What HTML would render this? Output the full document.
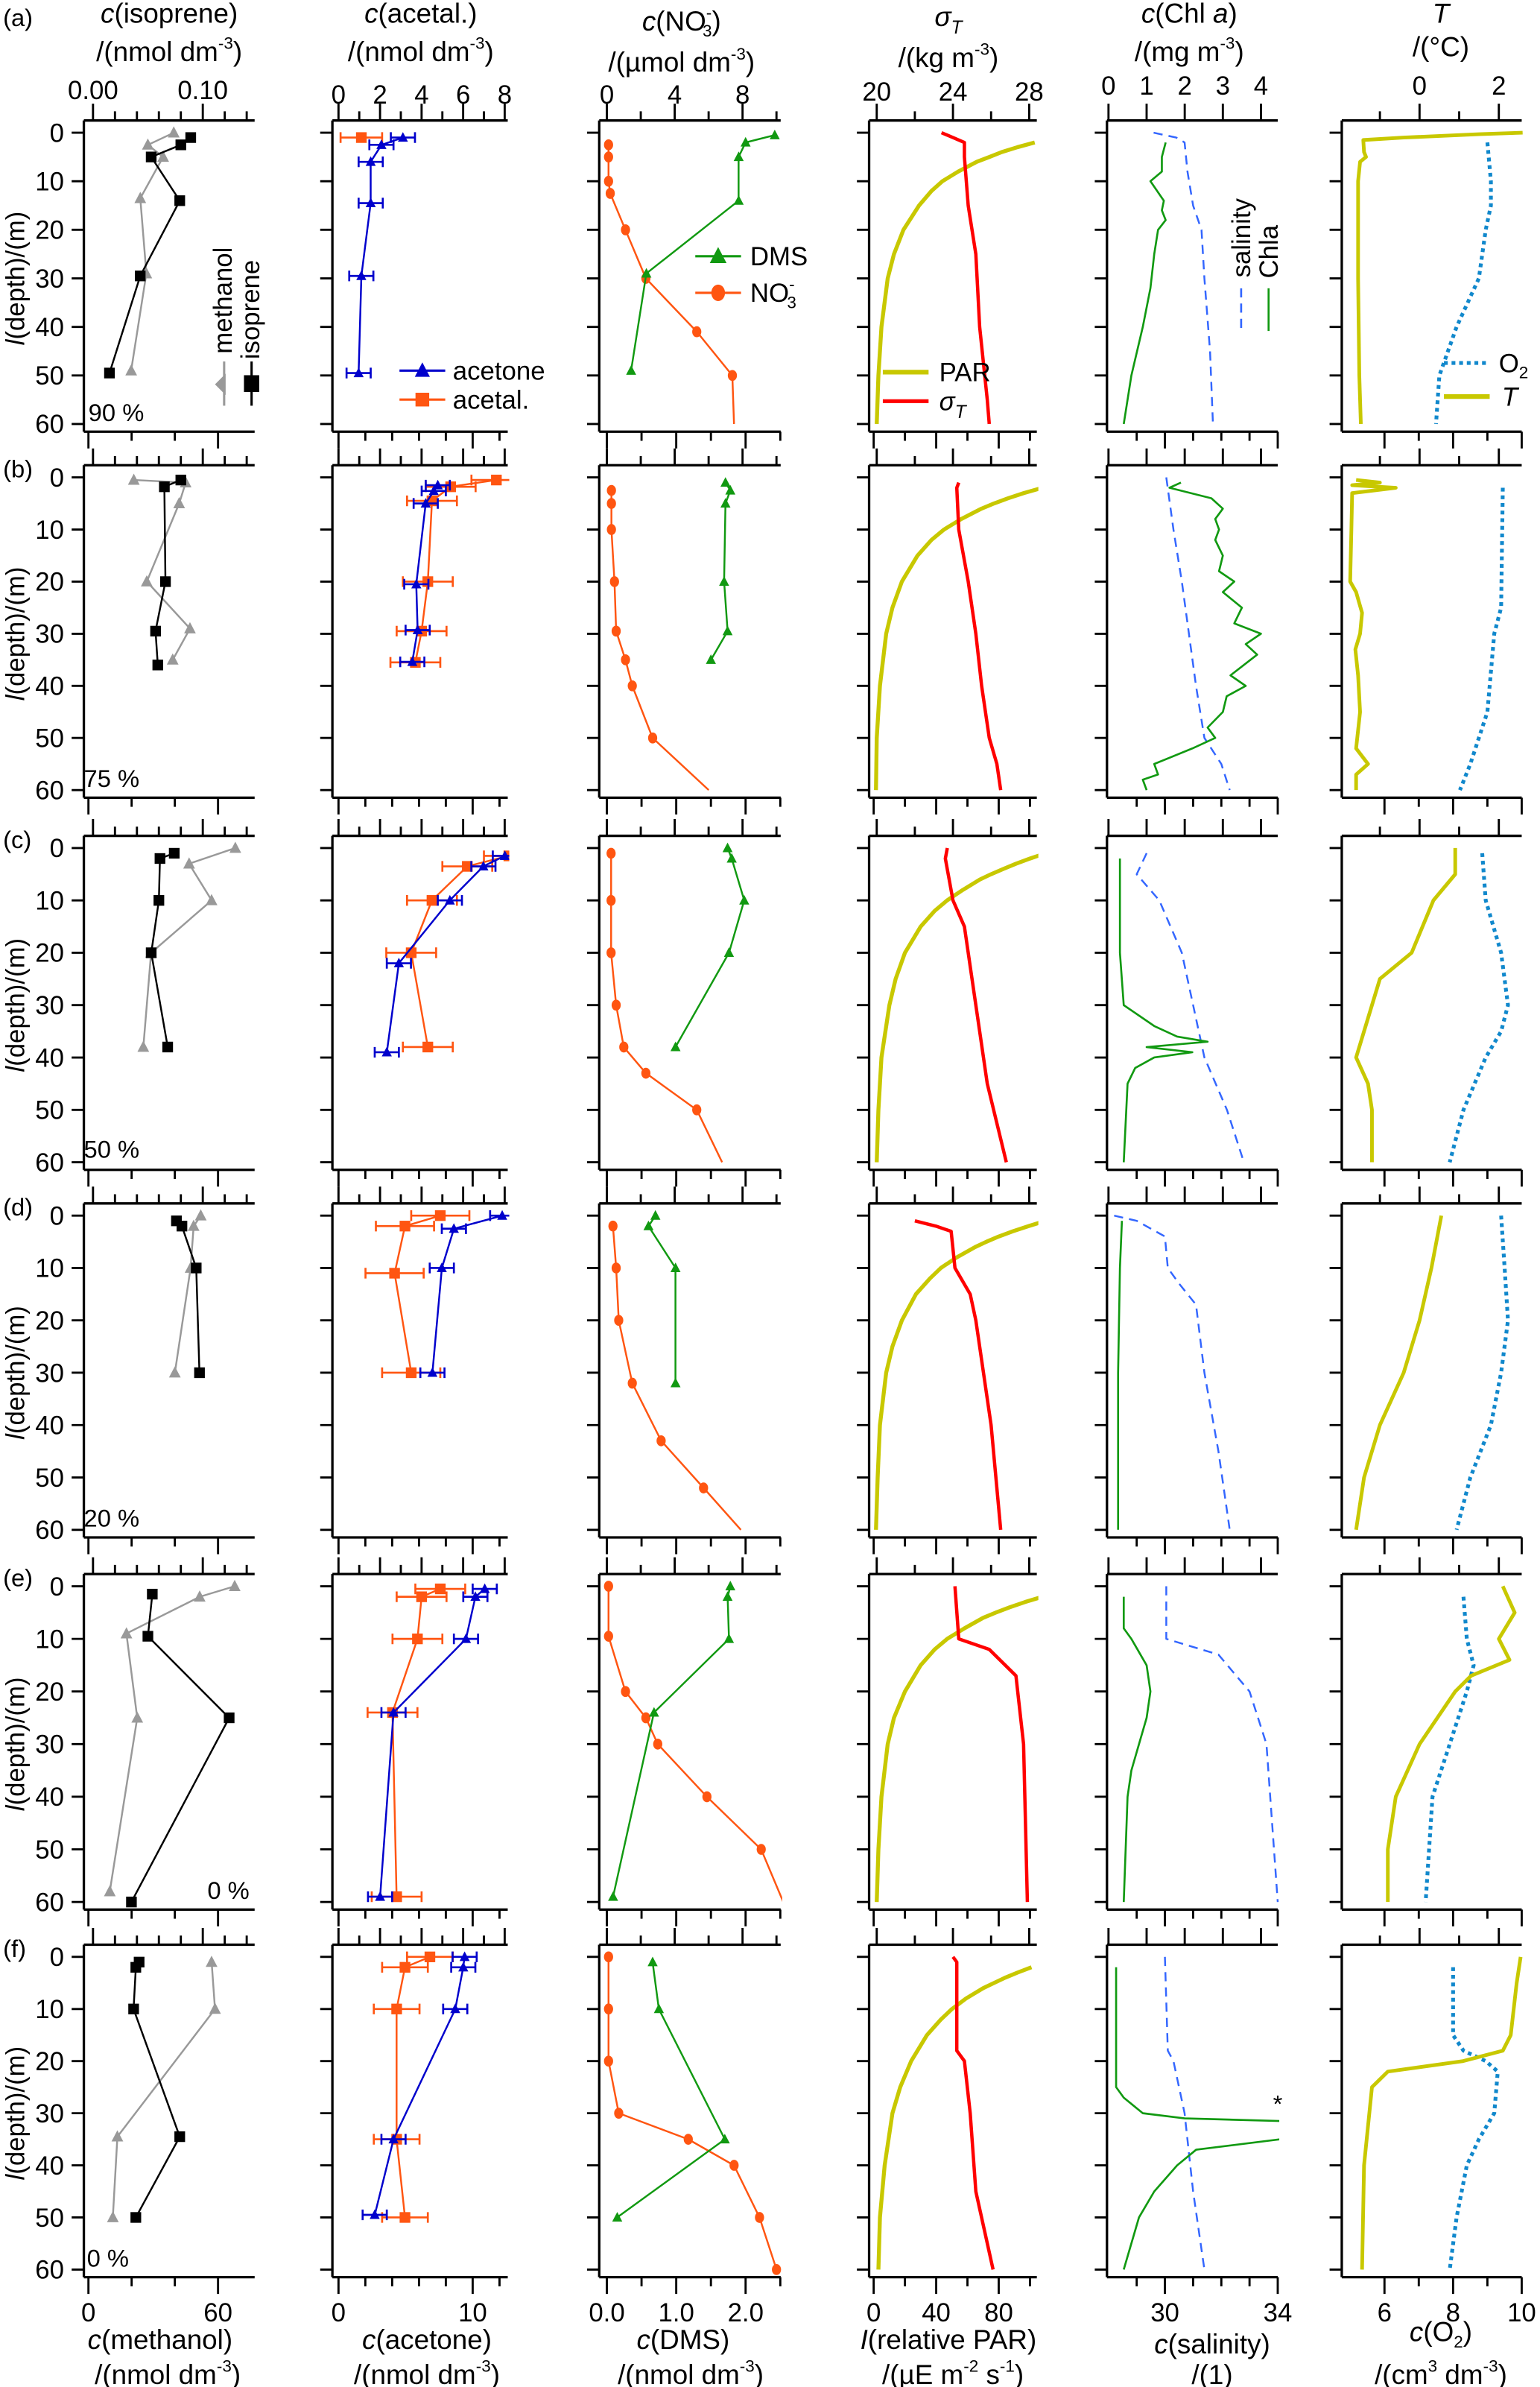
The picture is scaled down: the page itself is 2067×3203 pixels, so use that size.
<!DOCTYPE html>
<html><head><meta charset="utf-8"><title>Depth profiles</title>
<style>
html,body{margin:0;padding:0;background:#fff;}
svg{display:block;}
text{font-family:"Liberation Sans Narrow","Liberation Sans",sans-serif;fill:#000;}
</style></head>
<body>
<svg id="fig" xmlns="http://www.w3.org/2000/svg" width="2067" height="3203" viewBox="0 0 1010 1565" preserveAspectRatio="none"></svg>
<script>
// ---------- data (depth m, value) per row a..f ----------
const isoprene = [
 [[1,0.089],[2.5,0.08],[5,0.053],[14,0.079],[29.5,0.043],[49.5,0.015]],
 [[0.5,0.08],[1.8,0.065],[20,0.066],[29.5,0.057],[36,0.059]],
 [[1,0.074],[2,0.061],[10,0.06],[20,0.053],[38,0.068]],
 [[1,0.076],[2,0.081],[10,0.094],[30,0.097]],
 [[1.5,0.054],[9.5,0.05],[25,0.124],[60,0.035]],
 [[1,0.042],[2,0.039],[10,0.037],[34.5,0.079],[50,0.039]]];
const methanol = [
 [[0,39.5],[2.5,27.5],[5,34.6],[13.5,24],[29,26.8],[49,19.8]],
 [[0.5,21],[1,45],[5,42],[20,27],[29,47],[35,39]],
 [[0,68],[3,46.6],[10,57],[20,29],[38,25.4]],
 [[0,52],[2,48.7],[10,47.3],[30,40]],
 [[0,67.7],[2,51.5],[9,17.6],[25,22.6],[58,9.9]],
 [[1,57],[10,58.6],[34.5,13.4],[50,11.3]]];
const acetone = [
 [[1,4.8],[2.5,3.2],[6,2.4],[14.5,2.4],[29.5,1.7],[49.5,1.5]],
 [[1.5,7.4],[2.6,7.1],[5,6.5],[20.5,5.8],[29.3,5.9],[35.4,5.5]],
 [[1.5,12.4],[3.5,10.8],[10,8.3],[22,4.5],[39,3.6]],
 [[0,12.2],[2.5,8.6],[10,7.7],[30,7.0]],
 [[0.5,10.9],[2,10.2],[10,9.5],[24,4.1],[59,3.1]],
 [[0,9.4],[2,9.3],[10,8.7],[35,4.1],[49.5,2.7]]];
const acetal = [
 [[1,1.1]],
 [[0.5,7.6],[1.8,5.4],[4.5,4.5],[20,4.3],[29.5,4],[35.5,3.7]],
 [[1.5,8.2],[3.5,6.2],[10,4.5],[20,3.5],[38,4.3]],
 [[0,4.9],[2,3.2],[11,2.7],[30,3.5]],
 [[0.5,4.9],[2,4],[10,3.8],[24,2.6],[59,2.8]],
 [[0,4.4],[2,3.2],[10,2.8],[35,2.8],[50,3.2]]];
const acetoneErr = [0.9,0.9,0.9,0.9,0.9,0.9];
const acetalErr = [1.0,1.2,1.2,1.4,1.2,1.1];
const nitrate = [
 [[2.5,0.1],[5,0.1],[10,0.1],[12.5,0.2],[20,1.1],[30,2.3],[41,5.3],[50,7.4]],
 [[2.5,0.27],[5,0.27],[10,0.27],[20,0.45],[29.5,0.55],[35,1.1],[40,1.5],[50,2.7]],
 [[1,0.25],[10,0.25],[20,0.25],[30,0.55],[38,1.0],[43,2.3],[50,5.3]],
 [[2,0.36],[10,0.55],[20,0.7],[32,1.5],[43,3.2],[52,5.7]],
 [[0,0.1],[9.5,0.1],[20,1.1],[25,2.3],[30,3.0],[40,5.9],[50,9.1]],
 [[0,0.1],[10,0.1],[20,0.1],[30,0.7],[35,4.8],[40,7.5],[50,9.0],[60,10.0]]];
const nitrateEnd = [[60,7.5],[60,6.0],[60,6.8],[60,7.9],[60,10.4],[60,10.0]];
const dms = [
 [[0.5,2.42],[2,2.0],[5,1.9],[14,1.9],[29,0.57],[49,0.35]],
 [[1,1.71],[2.5,1.78],[5,1.71],[20,1.69],[29.5,1.74],[35,1.5]],
 [[0,1.74],[2,1.8],[10,1.98],[20,1.76],[38,0.99]],
 [[0,0.7],[2,0.6],[10,0.99],[32,0.99]],
 [[0,1.78],[2,1.74],[10,1.76],[24,0.68],[59,0.09]],
 [[1,0.66],[10,0.75],[35,1.7],[50,0.15]]];
const sigmaT = [
 [[0,23.4],[1,24.0],[2,24.6],[5,24.6],[15,24.8],[25,25.2],[40,25.4],[55,25.8],[60,25.9]],
 [[1,24.3],[2,24.2],[10,24.3],[20,24.8],[30,25.2],[40,25.5],[50,25.9],[55,26.3],[60,26.5]],
 [[0,23.7],[2,23.6],[10,24.0],[15,24.6],[30,25.2],[45,25.8],[60,26.8]],
 [[1,22.0],[2,23.1],[3,23.9],[10,24.1],[15,24.9],[20,25.2],[40,26.0],[60,26.5]],
 [[0,24.1],[10,24.3],[12,25.9],[17,27.3],[30,27.7],[60,27.9]],
 [[0,24.0],[1,24.2],[18,24.2],[20,24.6],[30,24.9],[45,25.2],[60,26.1]]];
const par = [
 [[2,103],[3,92],[4,82],[5,74],[6,66],[8,54],[10,44],[12,37],[15,29],[20,19],[25,13],[30,9],[40,5],[50,3],[60,2]],
 [[2,108],[3,96],[4,86],[5,77],[6,69],[8,56],[10,45],[12,37],[15,28],[20,18],[25,12],[30,8],[40,4],[50,2],[60,1.5]],
 [[1,110],[2,100],[3,91],[4,83],[5,75],[6,68],[8,57],[10,47],[12,39],[15,30],[20,20],[25,14],[30,10],[40,5],[50,3],[60,2]],
 [[1,110],[2,99],[3,89],[4,80],[5,72],[6,65],[8,53],[10,43],[12,36],[15,27],[20,18],[25,12],[30,8],[40,4],[50,2.5],[60,1.5]],
 [[2,108],[3,97],[4,87],[5,78],[6,70],[8,58],[10,47],[12,39],[15,30],[20,20],[25,13],[30,9],[40,5],[50,3],[60,2]],
 [[2,101],[3,92],[4,84],[5,77],[6,70],[8,59],[10,50],[12,43],[15,34],[20,24],[25,17],[30,12],[40,7],[50,4],[60,3]]];
const chla = [
 [[2,1.5],[5,1.4],[8,1.4],[10,1.1],[14,1.45],[16,1.4],[18,1.5],[20,1.3],[25,1.2],[32,1.1],[40,0.9],[50,0.6],[60,0.4]],
 [[1,1.9],[2,1.6],[4,2.7],[6,3.0],[8,2.8],[10,2.9],[12,2.8],[15,3.0],[18,2.9],[20,3.3],[22,3.0],[25,3.5],[28,3.3],[30,4.0],[32,3.6],[34,3.9],[38,3.2],[40,3.6],[42,3.1],[45,3.0],[48,2.6],[50,2.8],[52,2.2],[55,1.2],[57,1.3],[58,0.9],[60,1.0]],
 [[2,0.3],[20,0.3],[30,0.4],[34,1.2],[36,1.8],[37,2.6],[38,1.0],[39,2.2],[40,1.2],[42,0.7],[45,0.5],[60,0.4]],
 [[1,0.35],[10,0.3],[30,0.25],[60,0.25]],
 [[2,0.4],[8,0.4],[10,0.6],[15,1.0],[20,1.1],[25,1.0],[30,0.8],[35,0.6],[40,0.5],[60,0.4]],
 [[2,0.2],[25,0.2],[27,0.4],[30,0.9],[31,2.0],[31.5,4.5],[null,null],[35,4.5],[37,2.3],[40,1.8],[45,1.2],[50,0.8],[55,0.6],[60,0.4]]];
const salinity = [
 [[0,29.6],[1,30.4],[2,30.7],[8,30.8],[15,31.0],[20,31.3],[30,31.4],[45,31.6],[60,31.7]],
 [[0,30.05],[10,30.3],[20,30.6],[40,31.1],[50,31.4],[55,32.0],[60,32.3]],
 [[1,29.35],[5,29.0],[10,29.8],[20,30.6],[40,31.4],[50,32.2],[60,32.8]],
 [[0,28.2],[1,29.0],[4,30.0],[10,30.1],[13,30.5],[17,31.1],[30,31.4],[45,31.9],[60,32.3]],
 [[0,30.05],[10,30.05],[13,31.9],[20,33.0],[30,33.6],[45,33.8],[60,34.0]],
 [[0,30.0],[18,30.1],[20,30.3],[30,30.7],[45,31.0],[60,31.4]]];
const temperature = [
 [[0,2.6],[0.3,1.5],[1,-0.4],[1.5,-1.42],[4,-1.4],[5,-1.35],[6,-1.5],[10,-1.55],[30,-1.55],[50,-1.52],[60,-1.48]],
 [[0.5,-1.6],[1,-1.0],[1.5,-1.7],[2,-0.6],[3,-1.7],[10,-1.72],[20,-1.75],[22,-1.6],[26,-1.45],[30,-1.5],[33,-1.62],[38,-1.55],[45,-1.5],[52,-1.6],[55,-1.3],[57,-1.6],[60,-1.6]],
 [[0,0.9],[5,0.9],[10,0.35],[20,-0.2],[25,-1.0],[30,-1.2],[40,-1.6],[45,-1.3],[50,-1.2],[60,-1.2]],
 [[0,0.55],[10,0.3],[20,0.0],[30,-0.4],[40,-1.0],[50,-1.4],[60,-1.6]],
 [[0,2.1],[5,2.4],[10,2.0],[14,2.27],[17,1.3],[20,0.9],[30,0.0],[40,-0.6],[50,-0.8],[60,-0.8]],
 [[0,2.55],[5,2.45],[15,2.3],[18,2.1],[20,1.1],[22,-0.8],[25,-1.2],[40,-1.4],[60,-1.45]]];
const oxygen = [
 [[2,9.0],[10,9.1],[15,9.1],[20,8.95],[30,8.75],[40,8.1],[50,7.6],[60,7.5]],
 [[2,9.45],[25,9.4],[30,9.2],[45,9.0],[55,8.5],[60,8.2]],
 [[1,8.85],[10,8.95],[20,9.4],[30,9.6],[35,9.4],[40,8.95],[50,8.3],[60,7.9]],
 [[0,9.4],[10,9.5],[20,9.6],[30,9.4],[40,9.1],[50,8.5],[60,8.1]],
 [[2,8.3],[10,8.4],[15,8.6],[20,8.4],[30,7.9],[40,7.4],[60,7.2]],
 [[2,8.0],[15,8.0],[18,8.3],[20,8.95],[22,9.3],[30,9.2],[35,8.75],[40,8.4],[50,8.1],[60,7.9]]];
const depthTicks = [0,10,20,30,40,50,60];
const rowLetters = ["(a)","(b)","(c)","(d)","(e)","(f)"];
const percentLabels = ["90 %","75 %","50 %","20 %","0 %","0 %"];
const topTickLabels = [["0.00","0.10"],["0","2","4","6","8"],["0","4","8"],["20","24","28"],["0","1","2","3","4"],["0","2"]];
const topTickValues = [[0,0.1],[0,2,4,6,8],[0,4,8],[20,24,28],[0,1,2,3,4],[0,2]];
const topMinor = [[0.02,0.04,0.06,0.08,0.12,0.14],[1,3,5,7],[2,6,10],[22,26],[],[-1,1]];
const botTickLabels = [["0","60"],["0","10"],["0.0","1.0","2.0"],["0","40","80"],["30","34"],["6","8","10"]];
const botTickValues = [[0,60],[0,10],[0,1,2],[0,40,80],[30,34],[6,8,10]];
const botMinor = [[20,40,80],[2,4,6,8,12],[0.5,1.5,2.5],[20,60,100],[29,31,32,33],[7,9]];

// ---------- layout ----------
const NS="http://www.w3.org/2000/svg";
const svg=document.getElementById('fig');
const rowY0=[87,313,556,797,1040,1283], rowY60=[278,518,762,1003,1247,1488];
const cols=[
 {x0:55,x1:167,t:[61,133,0,0.1],b:[58,143,0,60]},
 {x0:218,x1:333,t:[222,331,0,8],b:[222,310,0,10]},
 {x0:393,x1:512,t:[398,487,0,8],b:[398,489,0,2]},
 {x0:570,x1:680,t:[575,675,20,28],b:[573,655,0,80]},
 {x0:726,x1:838,t:[727,827,0,4],b:[764,838,30,34]},
 {x0:880,x1:998,t:[931,983,0,2],b:[908,998,6,10]}];
function sx(c,ax,v){const s=cols[c][ax];return s[0]+(v-s[2])*(s[1]-s[0])/(s[3]-s[2]);}
function sy(r,d){return rowY0[r]+d*(rowY60[r]-rowY0[r])/60;}
function el(tag,attrs,parent){const e=document.createElementNS(NS,tag);for(const k in attrs)e.setAttribute(k,attrs[k]);(parent||svg).appendChild(e);return e;}
function txt(x,y,s,size,anchor,parent,extra){const t=el('text',Object.assign({x:x,y:y,'font-size':size,'text-anchor':anchor||'middle'},extra||{}),parent);t.innerHTML=s;return t;}
function pathOf(pts,c,r,ax){let d='',pen=false;for(const p of pts){if(p[0]===null){pen=false;continue;}d+=(pen?'L':'M')+sx(c,ax,p[1]).toFixed(1)+' '+sy(r,p[0]).toFixed(1);pen=true;}return d;}

const defs=el('defs',{});
for(let r=0;r<6;r++)for(let c=0;c<6;c++){
 const cp=el('clipPath',{id:'cp'+r+'_'+c},defs);
 el('rect',{x:cols[c].x0,y:rowY0[r]-8,width:cols[c].x1-cols[c].x0+1,height:rowY60[r]-rowY0[r]+13},cp);
}

// axes
for(let r=0;r<6;r++){
 const top=rowY0[r]-8,bot=rowY60[r]+5;
 for(let c=0;c<6;c++){
  const C=cols[c];
  const g=el('g',{});
  
  
  el('path',{d:`M${C.x0} ${top}V${bot}M${C.x0} ${top}H${C.x1}M${C.x0} ${bot}H${C.x1}`,stroke:'#000','stroke-width':1.6,fill:'none'},g);
  let tk='';
  for(const d of depthTicks){const y=sy(r,d);tk+=`M${C.x0-8} ${y}H${C.x0}`;}
  for(const v of topTickValues[c]){const x=sx(c,'t',v);tk+=`M${x} ${top}V${top-11}`;}
  for(const v of topMinor[c]){const x=sx(c,'t',v);if(x>=C.x0&&x<=C.x1)tk+=`M${x} ${top}V${top-6}`;}
  for(const v of botTickValues[c]){const x=sx(c,'b',v);tk+=`M${x} ${bot}V${bot+11}`;}
  for(const v of botMinor[c]){const x=sx(c,'b',v);if(x>=C.x0&&x<=C.x1)tk+=`M${x} ${bot}V${bot+6}`;}
  el('path',{d:tk,stroke:'#000','stroke-width':1.4,fill:'none'},g);
 }
 for(const d of depthTicks){const t=txt(42,sy(r,d)+6,String(d),17,'end');}
 const yt=txt(0,0,'<tspan font-style="italic">l</tspan>(depth)/(m)',17,'middle',svg,{transform:`translate(16 ${(rowY0[r]+rowY60[r])/2}) rotate(-90)`});
 
 const rl=txt(2,r===0?17:rowY0[r],rowLetters[r],16,'start');
 
}
// percent labels
const pctPos=[[58,276],[55,516],[55,759],[55,1001],[136,1245],[57,1486]];
for(let r=0;r<6;r++){const t=txt(pctPos[r][0],pctPos[r][1],percentLabels[r],16,'start');}

// tick labels
const topLabY=[65,68,68,66,62,62];
for(let c=0;c<6;c++)topTickValues[c].forEach((v,i)=>{const t=txt(sx(c,'t',v),topLabY[c],topTickLabels[c][i],17);});
for(let c=0;c<6;c++)botTickValues[c].forEach((v,i)=>{const t=txt(sx(c,'b',v),1522,botTickLabels[c][i],17);});

// titles
const sup=s=>`<tspan font-size="11" dy="-8">${s}</tspan><tspan dy="8">`;
const T=[
 [111,15,'<tspan font-style="italic">c</tspan>(isoprene)'],[111,40,'/(nmol dm'+sup('-3')+')</tspan>'],
 [276,15,'<tspan font-style="italic">c</tspan>(acetal.)'],[276,40,'/(nmol dm'+sup('-3')+')</tspan>'],
 [447,20,'<tspan font-style="italic">c</tspan>(NO<tspan font-size="11" dy="-8">-</tspan><tspan font-size="11" dy="12" dx="-6">3</tspan><tspan dy="-4">)</tspan>'],[447,47,'/(µmol dm'+sup('-3')+')</tspan>'],
 [622,17,'<tspan font-style="italic">σ</tspan><tspan font-size="12" dy="5" font-style="italic">T</tspan>'],[622,44,'/(kg m'+sup('-3')+')</tspan>'],
 [780,15,'<tspan font-style="italic">c</tspan>(Chl <tspan font-style="italic">a</tspan>)'],[780,40,'/(mg m'+sup('-3')+')</tspan>'],
 [945,15,'<tspan font-style="italic">T</tspan>'],[945,37,'/(°C)'],
 [105,1540,'<tspan font-style="italic">c</tspan>(methanol)'],[110,1563,'/(nmol dm'+sup('-3')+')</tspan>'],
 [280,1540,'<tspan font-style="italic">c</tspan>(acetone)'],[280,1563,'/(nmol dm'+sup('-3')+')</tspan>'],
 [448,1540,'<tspan font-style="italic">c</tspan>(DMS)'],[453,1563,'/(nmol dm'+sup('-3')+')</tspan>'],
 [622,1540,'<tspan font-style="italic">I</tspan>(relative PAR)'],[625,1563,'/(µE m'+sup('-2')+' s'+'</tspan><tspan font-size="11" dy="-8">-1</tspan><tspan dy="8">)</tspan>'],
 [795,1543,'<tspan font-style="italic">c</tspan>(salinity)'],[795,1563,'/(1)'],
 [945,1535,'<tspan font-style="italic">c</tspan>(O<tspan font-size="11" dy="4">2</tspan><tspan dy="-4">)</tspan>'],[945,1563,'/(cm'+sup('3')+' dm</tspan><tspan font-size="11" dy="-8">-3</tspan><tspan dy="8">)</tspan>']];
T.forEach(a=>{const t=txt(a[0],a[1],a[2],18);});

// markers
function marker(kind,x,y,color,size,parent){
 if(kind==='sq')return el('rect',{x:x-size/2,y:y-size/2,width:size,height:size,fill:color},parent);
 if(kind==='tri')return el('path',{d:`M${x} ${y-size*0.6}L${x+size*0.55} ${y+size*0.45}L${x-size*0.55} ${y+size*0.45}Z`,fill:color},parent);
 if(kind==='circ')return el('ellipse',{cx:x,cy:y,rx:size/2,ry:size*0.6,fill:color},parent);
}
function series(name,data,r,c,ax,color,w,extra,mk,ms){
 const g=el('g',{'clip-path':`url(#cp${r}_${c})`});
 
 
 el('path',Object.assign({d:pathOf(data,c,r,ax),stroke:color,'stroke-width':w,fill:'none','stroke-linejoin':'round'},extra||{}),g);
 if(mk)for(const p of data){if(p[0]===null)continue;const m=marker(mk,sx(c,ax,p[1]),sy(r,p[0]),color,ms,g);}
 return g;
}
function errbars(data,err,r,c,ax,color,g){
 for(const p of data){const y=sy(r,p[0]),xa=sx(c,ax,p[1]-err),xb=sx(c,ax,p[1]+err);
  el('path',{d:`M${xa} ${y}H${xb}M${xa} ${y-3.5}V${y+3.5}M${xb} ${y-3.5}V${y+3.5}`,stroke:color,'stroke-width':1.3,fill:'none'},g);}
}
for(let r=0;r<6;r++){
 series('methanol',methanol[r],r,0,'b','#999999',1.2,null,'tri',7);
 series('isoprene',isoprene[r],r,0,'t','#000000',1.2,null,'sq',7);
 const ga=series('acetal',acetal[r],r,1,'t','#ff5511',1.2,null,'sq',7);errbars(acetal[r],acetalErr[r],r,1,'t','#ff5511',ga);
 const gb=series('acetone',acetone[r],r,1,'b','#0000cc',1.2,null,'tri',6);errbars(acetone[r],acetoneErr[r],r,1,'b','#0000cc',gb);
 series('nitrate',nitrate[r].concat([nitrateEnd[r]]),r,2,'t','#ff5511',1.2,null,null,0);
 series('nitrate-markers',nitrate[r],r,2,'t','#ff5511',0,null,'circ',6);
 series('dms',dms[r],r,2,'b','#119911',1.2,null,'tri',6);
 series('par',par[r],r,3,'b','#c8c800',2.6,null,null,0);
 series('sigma-t',sigmaT[r],r,3,'t','#ff0000',2.2,null,null,0);
 series('salinity',salinity[r],r,4,'b','#3366ff',1.2,{'stroke-dasharray':'6 4'},null,0);
 series('chla',chla[r],r,4,'t','#119911',1.3,null,null,0);
 series('oxygen',oxygen[r],r,5,'b','#1188cc',2.5,{'stroke-dasharray':'2.5 2.5'},null,0);
 series('temperature',temperature[r],r,5,'t','#c8c800',2.4,null,null,0);
}
// legends
function legLine(x1,y1,x2,y2,color,w,dash,name){const l=el('path',{d:`M${x1} ${y1}L${x2} ${y2}`,stroke:color,'stroke-width':w,fill:'none','stroke-dasharray':dash||'none'});return l;}
let t;
t=txt(0,0,'methanol',17,'middle',svg,{transform:'translate(152 197) rotate(-90)'});
t=txt(0,0,'isoprene',17,'middle',svg,{transform:'translate(170 203) rotate(-90)'});
legLine(147,237,147,266,'#999',1.5,null,'legend-methanol-line');
el('path',{d:'M141 252L148 245L148 259Z',fill:'#999'});
legLine(165,237,165,266,'#000',1.5,null,'legend-isoprene-line');
el('rect',{x:160,y:246,width:10,height:11,fill:'#000'});
legLine(262,243,292,243,'#0000cc',1.5,null,'legend-acetone-line');marker('tri',277,243,'#0000cc',9);
t=txt(297,249,'acetone',17,'start');
legLine(262,262,292,262,'#ff5511',1.5,null,'legend-acetal-line');marker('sq',277,262,'#ff5511',9);
t=txt(297,268,'acetal.',17,'start');
legLine(456,168,486,168,'#119911',1.5,null,'legend-dms-line');marker('tri',471,168,'#119911',10);
t=txt(492,174,'DMS',17,'start');
legLine(456,192,486,192,'#ff5511',1.5,null,'legend-nitrate-line');marker('circ',471,192,'#ff5511',9);
t=txt(492,198,'NO<tspan font-size="11" dy="-8">-</tspan><tspan font-size="11" dy="12" dx="-5">3</tspan>',17,'start');
legLine(579,244,609,244,'#c8c800',3,null,'legend-par-line');
t=txt(616,250,'PAR',17,'start');
legLine(579,263,609,263,'#ff0000',2.5,null,'legend-sigma-line');
t=txt(616,269,'<tspan font-style="italic">σ</tspan><tspan font-size="12" dy="5" font-style="italic">T</tspan>',17,'start');
t=txt(0,0,'salinity',17,'middle',svg,{transform:'translate(820 156) rotate(-90)'});
t=txt(0,0,'Chla',17,'middle',svg,{transform:'translate(838 165) rotate(-90)'});
legLine(814,189,814,217,'#3366ff',1.3,'6 4','legend-salinity-line');
legLine(832,189,832,217,'#119911',1.3,null,'legend-chla-line');
legLine(947,238,977,238,'#1188cc',2.5,'2.5 2.5','legend-oxygen-line');
t=txt(983,244,'O<tspan font-size="11" dy="4">2</tspan>',17,'start');
legLine(947,260,977,260,'#c8c800',3,null,'legend-temperature-line');
t=txt(985,266,'<tspan font-style="italic">T</tspan>',17,'start');
t=txt(838,1385,'*',16,'middle');
</script>
</body></html>
